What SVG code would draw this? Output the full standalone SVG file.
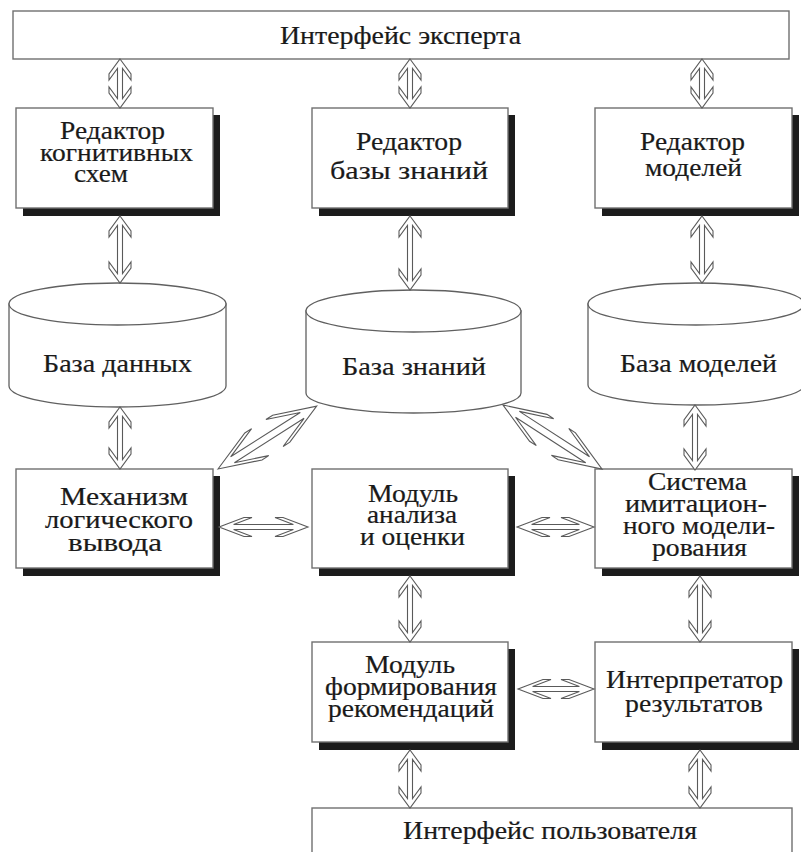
<svg xmlns="http://www.w3.org/2000/svg" width="801" height="852" viewBox="0 0 801 852">
  <style>
    .box { fill: #ffffff; stroke: #707070; stroke-width: 1.4; }
    .shadow { fill: #1c1c1c; }
    .cyl { fill: #ffffff; stroke: #606060; stroke-width: 1.3; }
    .arrow { fill: #ffffff; stroke: #5a5a5a; stroke-width: 1.1; stroke-linejoin: miter; }
    text { font-family: "Liberation Serif", "Times New Roman", serif; font-size: 25px; fill: #1a1a1a; stroke: #1a1a1a; stroke-width: 0.2; }
  </style>
  <rect width="801" height="852" fill="#ffffff"/>

  <!-- top bar -->
  <g id="expert-interface">
    <rect class="box" x="13" y="11" width="776" height="48"/>
    <text x="280" y="44" textLength="241" lengthAdjust="spacingAndGlyphs">Интерфейс эксперта</text>
  </g>

  <!-- editors -->
  <g id="editor-cognitive">
    <rect class="shadow" x="23" y="115" width="197" height="101"/>
    <rect class="box" x="16" y="108" width="197" height="100"/>
    <text x="60" y="139" textLength="105" lengthAdjust="spacingAndGlyphs">Редактор</text>
    <text x="40" y="161" textLength="153" lengthAdjust="spacingAndGlyphs">когнитивных</text>
    <text x="74" y="182" textLength="54" lengthAdjust="spacingAndGlyphs">схем</text>
  </g>
  <g id="editor-kb">
    <rect class="shadow" x="319" y="115" width="196" height="101"/>
    <rect class="box" x="312" y="108" width="196" height="100"/>
    <text x="356" y="150" textLength="106" lengthAdjust="spacingAndGlyphs">Редактор</text>
    <text x="330" y="179" textLength="158" lengthAdjust="spacingAndGlyphs">базы знаний</text>
  </g>
  <g id="editor-models">
    <rect class="shadow" x="602" y="115" width="197" height="101"/>
    <rect class="box" x="595" y="108" width="197" height="100"/>
    <text x="640" y="150" textLength="105" lengthAdjust="spacingAndGlyphs">Редактор</text>
    <text x="645" y="176" textLength="97" lengthAdjust="spacingAndGlyphs">моделей</text>
  </g>

  <!-- storages -->
  <g id="database">
    <path class="cyl" d="M9,304 L9,386 A108.5,21 0 0,0 226,386 L226,304 Z"/>
    <ellipse class="cyl" cx="117.5" cy="304" rx="108.5" ry="21"/>
    <text x="43" y="372" textLength="149" lengthAdjust="spacingAndGlyphs">База данных</text>
  </g>
  <g id="knowledge-base">
    <path class="cyl" d="M306,311 L306,393 A107.5,20 0 0,0 521,393 L521,311 Z"/>
    <ellipse class="cyl" cx="413.5" cy="311" rx="107.5" ry="21"/>
    <text x="342" y="375" textLength="144" lengthAdjust="spacingAndGlyphs">База знаний</text>
  </g>
  <g id="model-base">
    <path class="cyl" d="M588,304 L588,385 A108,20 0 0,0 804,385 L804,304 Z"/>
    <ellipse class="cyl" cx="696" cy="304" rx="108" ry="21"/>
    <text x="620" y="372" textLength="157" lengthAdjust="spacingAndGlyphs">База моделей</text>
  </g>

  <!-- processing modules -->
  <g id="inference">
    <rect class="shadow" x="23" y="476" width="197" height="100"/>
    <rect class="box" x="16" y="469" width="197" height="99"/>
    <text x="60" y="505" textLength="128" lengthAdjust="spacingAndGlyphs">Механизм</text>
    <text x="45" y="528" textLength="148" lengthAdjust="spacingAndGlyphs">логического</text>
    <text x="68" y="551" textLength="94" lengthAdjust="spacingAndGlyphs">вывода</text>
  </g>
  <g id="analysis">
    <rect class="shadow" x="319" y="476" width="196" height="100"/>
    <rect class="box" x="312" y="469" width="196" height="99"/>
    <text x="368" y="502" textLength="90" lengthAdjust="spacingAndGlyphs">Модуль</text>
    <text x="367" y="523" textLength="90" lengthAdjust="spacingAndGlyphs">анализа</text>
    <text x="360" y="545" textLength="105" lengthAdjust="spacingAndGlyphs">и оценки</text>
  </g>
  <g id="simulation">
    <rect class="shadow" x="602" y="476" width="197" height="100"/>
    <rect class="box" x="595" y="469" width="197" height="99"/>
    <text x="648" y="490" textLength="99" lengthAdjust="spacingAndGlyphs">Система</text>
    <text x="625" y="512" textLength="142" lengthAdjust="spacingAndGlyphs">имитацион-</text>
    <text x="623" y="534" textLength="152" lengthAdjust="spacingAndGlyphs">ного модели-</text>
    <text x="652" y="556" textLength="95" lengthAdjust="spacingAndGlyphs">рования</text>
  </g>

  <g id="recommendations">
    <rect class="shadow" x="319" y="649" width="196" height="101"/>
    <rect class="box" x="312" y="642" width="196" height="100"/>
    <text x="365" y="673" textLength="90" lengthAdjust="spacingAndGlyphs">Модуль</text>
    <text x="325" y="695" textLength="172" lengthAdjust="spacingAndGlyphs">формирования</text>
    <text x="328" y="717" textLength="166" lengthAdjust="spacingAndGlyphs">рекомендаций</text>
  </g>
  <g id="interpreter">
    <rect class="shadow" x="602" y="649" width="197" height="101"/>
    <rect class="box" x="595" y="642" width="197" height="100"/>
    <text x="606" y="688" textLength="177" lengthAdjust="spacingAndGlyphs">Интерпретатор</text>
    <text x="625" y="712" textLength="138" lengthAdjust="spacingAndGlyphs">результатов</text>
  </g>

  <!-- bottom bar -->
  <g id="user-interface">
    <rect class="box" x="312" y="808" width="480" height="60"/>
    <text x="403" y="839" textLength="294" lengthAdjust="spacingAndGlyphs">Интерфейс пользователя</text>
  </g>

  <!-- two-way hollow arrows -->
  <g id="connectors">
    <polygon class="arrow" transform="translate(120,59) rotate(90)" points="0,0 15,-11 21,-11 9.4,-2.5 39.6,-2.5 28,-11 34,-11 49,0 34,11 28,11 39.6,2.5 9.4,2.5 21,11 15,11"/>
    <polygon class="arrow" transform="translate(410,59) rotate(90)" points="0,0 15,-11 21,-11 9.4,-2.5 39.6,-2.5 28,-11 34,-11 49,0 34,11 28,11 39.6,2.5 9.4,2.5 21,11 15,11"/>
    <polygon class="arrow" transform="translate(702,59) rotate(90)" points="0,0 15,-11 21,-11 9.4,-2.5 39.6,-2.5 28,-11 34,-11 49,0 34,11 28,11 39.6,2.5 9.4,2.5 21,11 15,11"/>

    <polygon class="arrow" transform="translate(120,216) rotate(90)" points="0,0 15,-11 21,-11 9.4,-2.5 57.6,-2.5 46,-11 52,-11 67,0 52,11 46,11 57.6,2.5 9.4,2.5 21,11 15,11"/>
    <polygon class="arrow" transform="translate(410,216) rotate(90)" points="0,0 15,-11 21,-11 9.4,-2.5 64.6,-2.5 53,-11 59,-11 74,0 59,11 53,11 64.6,2.5 9.4,2.5 21,11 15,11"/>
    <polygon class="arrow" transform="translate(702,216) rotate(90)" points="0,0 15,-11 21,-11 9.4,-2.5 57.6,-2.5 46,-11 52,-11 67,0 52,11 46,11 57.6,2.5 9.4,2.5 21,11 15,11"/>

    <polygon class="arrow" transform="translate(120,407) rotate(90)" points="0,0 15,-11 21,-11 9.4,-2.5 52.6,-2.5 41,-11 47,-11 62,0 47,11 41,11 52.6,2.5 9.4,2.5 21,11 15,11"/>
    <polygon class="arrow" transform="translate(695,405) rotate(90)" points="0,0 15,-11 21,-11 9.4,-2.5 55.6,-2.5 44,-11 50,-11 65,0 50,11 44,11 55.6,2.5 9.4,2.5 21,11 15,11"/>

    <polygon class="arrow" transform="translate(218,469) rotate(-32.5)" points="0,0 42,-16 50,-16 17.2,-3.5 99.8,-3.5 67,-16 75,-16 117,0 75,16 67,16 99.8,3.5 17.2,3.5 50,16 42,16"/>
    <polygon class="arrow" transform="translate(503,405) rotate(32.9)" points="0,0 42,-16 50,-16 17.2,-3.5 100.8,-3.5 68,-16 76,-16 118,0 76,16 68,16 100.8,3.5 17.2,3.5 50,16 42,16"/>

    <polygon class="arrow" transform="translate(219,527)" points="0,0 25,-9.5 33,-9.5 14.6,-2.5 74.4,-2.5 56,-9.5 64,-9.5 89,0 64,9.5 56,9.5 74.4,2.5 14.6,2.5 33,9.5 25,9.5"/>
    <polygon class="arrow" transform="translate(517,527)" points="0,0 25,-9.5 33,-9.5 14.6,-2.5 62.4,-2.5 44,-9.5 52,-9.5 77,0 52,9.5 44,9.5 62.4,2.5 14.6,2.5 33,9.5 25,9.5"/>

    <polygon class="arrow" transform="translate(410,576) rotate(90)" points="0,0 15,-11 21,-11 9.4,-2.5 56.6,-2.5 45,-11 51,-11 66,0 51,11 45,11 56.6,2.5 9.4,2.5 21,11 15,11"/>
    <polygon class="arrow" transform="translate(700,576) rotate(90)" points="0,0 15,-11 21,-11 9.4,-2.5 56.6,-2.5 45,-11 51,-11 66,0 51,11 45,11 56.6,2.5 9.4,2.5 21,11 15,11"/>

    <polygon class="arrow" transform="translate(518,689)" points="0,0 25,-9.5 33,-9.5 14.6,-2.5 61.4,-2.5 43,-9.5 51,-9.5 76,0 51,9.5 43,9.5 61.4,2.5 14.6,2.5 33,9.5 25,9.5"/>

    <polygon class="arrow" transform="translate(410,750) rotate(90)" points="0,0 15,-11 21,-11 9.4,-2.5 48.6,-2.5 37,-11 43,-11 58,0 43,11 37,11 48.6,2.5 9.4,2.5 21,11 15,11"/>
    <polygon class="arrow" transform="translate(700,750) rotate(90)" points="0,0 15,-11 21,-11 9.4,-2.5 48.6,-2.5 37,-11 43,-11 58,0 43,11 37,11 48.6,2.5 9.4,2.5 21,11 15,11"/>
  </g>
</svg>
